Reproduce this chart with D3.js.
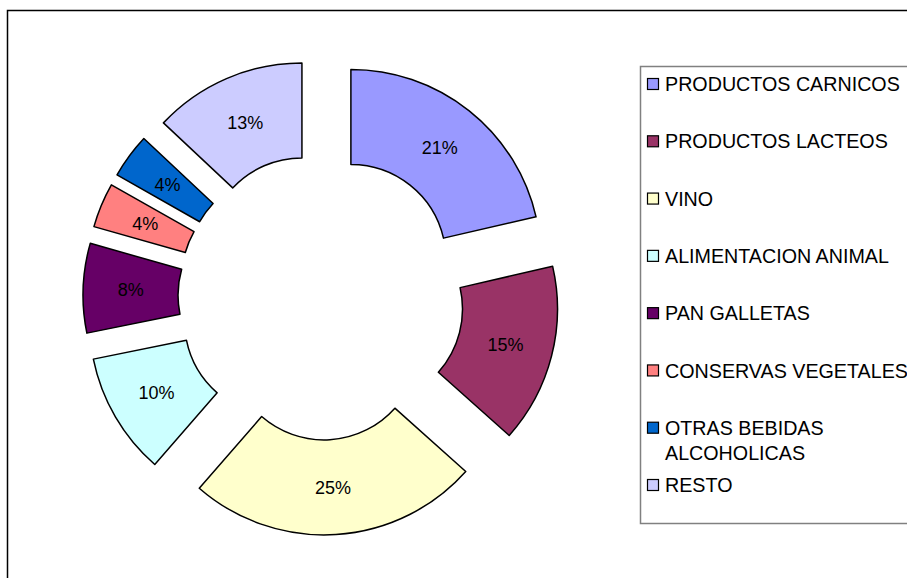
<!DOCTYPE html>
<html>
<head>
<meta charset="utf-8">
<script src="https://cdn.jsdelivr.net/npm/d3@7"></script>
<style>
  html, body { margin: 0; padding: 0; background: #fff; }
  svg { display: block; }
</style>
</head>
<body>
<svg id="chart" width="907" height="578"></svg>
<script>
// Share of each food sector (percent of total)
const categories = [
  "PRODUCTOS CARNICOS",
  "PRODUCTOS LACTEOS",
  "VINO",
  "ALIMENTACION ANIMAL",
  "PAN GALLETAS",
  "CONSERVAS VEGETALES",
  "OTRAS BEBIDAS ALCOHOLICAS",
  "RESTO"
];
const values = [21.4, 15.2, 24.8, 10.4, 7.6, 3.8, 3.8, 13.0];
const colors = ["#9999FF", "#993366", "#FFFFCC", "#CCFFFF", "#660066", "#FF8080", "#0066CC", "#CCCCFF"];
// Legend lines (long names wrap onto two lines)
const legendLines = [
  ["PRODUCTOS CARNICOS"],
  ["PRODUCTOS LACTEOS"],
  ["VINO"],
  ["ALIMENTACION ANIMAL"],
  ["PAN GALLETAS"],
  ["CONSERVAS VEGETALES"],
  ["OTRAS BEBIDAS", "ALCOHOLICAS"],
  ["RESTO"]
];

const svg = d3.select("#chart");
const font = "'Liberation Sans', Arial, sans-serif";

// Outer chart frame (continues past the right and bottom edges)
svg.append("rect")
  .attr("x", 7.5).attr("y", 10.5)
  .attr("width", 960).attr("height", 620)
  .attr("fill", "#fff")
  .attr("stroke", "#000")
  .attr("stroke-width", 1.5);

// Exploded doughnut
const cx = 321, cy = 297;
const outerR = 190, innerR = 95, explode = 48;

const pie = d3.pie().sort(null).value(d => d.value).startAngle(0).endAngle(2 * Math.PI);
const arc = d3.arc().innerRadius(innerR).outerRadius(outerR);
const data = categories.map((c, i) => ({ name: c, value: values[i], color: colors[i] }));
const arcs = pie(data);

const total = d3.sum(values);
const fmt = v => Math.round(v / total * 100) + "%";

const g = svg.append("g").attr("transform", `translate(${cx},${cy})`);

const slice = g.selectAll("g.slice")
  .data(arcs)
  .join("g")
  .attr("class", "slice")
  .attr("transform", d => {
    const a = (d.startAngle + d.endAngle) / 2;
    return `translate(${explode * Math.sin(a)},${-explode * Math.cos(a)})`;
  });

slice.append("path")
  .attr("d", arc)
  .attr("fill", d => d.data.color)
  .attr("stroke", "#000")
  .attr("stroke-width", 1.5)
  .attr("stroke-linejoin", "round");

slice.append("text")
  .attr("transform", d => `translate(${arc.centroid(d)})`)
  .attr("text-anchor", "middle")
  .attr("dy", "0.36em")
  .attr("font-family", font)
  .attr("font-size", 18)
  .attr("fill", "#000")
  .text(d => fmt(d.data.value));

// Legend
const legend = svg.append("g");
legend.append("rect")
  .attr("x", 640.5).attr("y", 66.5)
  .attr("width", 300).attr("height", 457)
  .attr("fill", "#fff")
  .attr("stroke", "#808080")
  .attr("stroke-width", 1.5);

const itemY = d3.scalePoint().domain(d3.range(categories.length)).range([84, 485]);
const lineH = 25;

const item = legend.selectAll("g.item")
  .data(data)
  .join("g")
  .attr("class", "item")
  .attr("transform", (d, i) => `translate(0,${itemY(i)})`);

item.append("rect")
  .attr("x", 647.5).attr("y", -5.5)
  .attr("width", 11).attr("height", 11)
  .attr("fill", d => d.color)
  .attr("stroke", "#000")
  .attr("stroke-width", 1.2);

item.append("text")
  .attr("font-family", font)
  .attr("font-size", 19.7)
  .attr("fill", "#000")
  .selectAll("tspan")
  .data((d, i) => legendLines[i])
  .join("tspan")
  .attr("x", 665)
  .attr("y", (d, j) => j * lineH)
  .attr("dy", "0.36em")
  .text(d => d);
</script>
</body>
</html>
